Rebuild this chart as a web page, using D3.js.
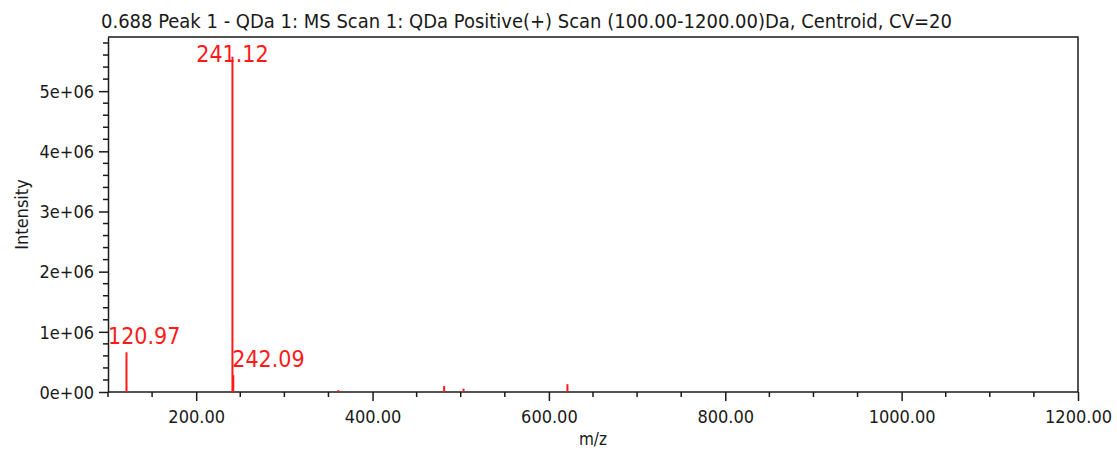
<!DOCTYPE html>
<html>
<head>
<meta charset="utf-8">
<script src="https://cdn.jsdelivr.net/npm/d3@7"></script>
<style>
  html, body { margin: 0; padding: 0; background: #fff; }
  svg { display: block; }
  text { font-family: "DejaVu Sans Condensed", "DejaVu Sans", sans-serif; fill: #1a1a1a; }
</style>
</head>
<body>
<svg id="chart" width="1117" height="452"></svg>
<script>
// Centroid peaks: m/z and intensity
const peakMz = [120.97, 241.12, 242.09, 361.2, 481.2, 503.2, 621.0];
const peakIntensity = [660000, 5570000, 280000, 30000, 100000, 55000, 130000];
// Peaks carrying an m/z label
const labelMz = ["120.97", "241.12", "242.09"];

const xTickValues = [200, 400, 600, 800, 1000, 1200];
const yTickValues = [0, 1e6, 2e6, 3e6, 4e6, 5e6];

const titleText = "0.688 Peak 1 - QDa 1: MS Scan 1: QDa Positive(+) Scan (100.00-1200.00)Da, Centroid, CV=20";
const xTitle = "m/z";
const yTitle = "Intensity";

const W = 1117, H = 452;
const margin = { top: 37, right: 39, bottom: 60, left: 108 };
const svg = d3.select("#chart");
const innerW = W - margin.left - margin.right;
const innerH = H - margin.top - margin.bottom;

const x = d3.scaleLinear().domain([100, 1200]).range([margin.left, margin.left + innerW]);
const y = d3.scaleLinear().domain([0, 5.9e6]).range([margin.top + innerH, margin.top]);

const peakColor = "#ff1a1a";
const axisColor = "#1a1a1a";

// Frame (top and right edges)
svg.append("path")
  .attr("d", `M${x(100)},${y.range()[1]}H${x(1200)}V${y.range()[0]}`)
  .attr("fill", "none").attr("stroke", axisColor).attr("stroke-width", 1.5);

// Minor ticks
const xMinor = d3.range(100, 1201, 50).filter(v => v % 200 !== 0);
svg.append("g").selectAll("line").data(xMinor).join("line")
  .attr("x1", d => x(d)).attr("x2", d => x(d))
  .attr("y1", y(0)).attr("y2", y(0) + 5)
  .attr("stroke", axisColor).attr("stroke-width", 1.5);

const yMinor = d3.range(0, 5.85e6, 2e5).filter(v => v % 1e6 !== 0);
svg.append("g").selectAll("line").data(yMinor).join("line")
  .attr("x1", x(100) - 5).attr("x2", x(100))
  .attr("y1", d => y(d)).attr("y2", d => y(d))
  .attr("stroke", axisColor).attr("stroke-width", 1.5);

// Major axes
const xAxis = d3.axisBottom(x).tickValues(xTickValues).tickFormat(d3.format(".2f")).tickSize(9).tickSizeOuter(0);
const gx = svg.append("g").attr("transform", `translate(0,${y(0)})`).call(xAxis);
gx.select(".domain").attr("d", `M${x(100)},0H${x(1200)}`);
const sciFormat = d => {
  const e = d === 0 ? 0 : Math.floor(Math.log10(d));
  const m = d === 0 ? 0 : d / Math.pow(10, e);
  return `${m}e+${String(e).padStart(2, "0")}`;
};
const yAxis = d3.axisLeft(y).tickValues(yTickValues).tickFormat(sciFormat).tickSize(9).tickSizeOuter(0);
const gy = svg.append("g").attr("transform", `translate(${x(100)},0)`).call(yAxis);

[gx, gy].forEach(g => {
  g.selectAll(".domain, .tick line").attr("stroke", axisColor).attr("stroke-width", 1.5);
  g.selectAll(".tick text").attr("fill", axisColor).style("font-size", "18px")
    .style("font-family", '"DejaVu Sans Condensed", "DejaVu Sans", sans-serif');
});
gx.selectAll(".tick text").attr("dy", "1.05em");
gy.selectAll(".tick text").attr("dx", "-2").attr("dy", "0.35em");

// Peaks
svg.append("g").selectAll("line").data(peakMz).join("line")
  .attr("x1", d => x(d)).attr("x2", d => x(d))
  .attr("y1", y(0)).attr("y2", (d, i) => y(peakIntensity[i]))
  .attr("stroke", peakColor).attr("stroke-width", 2);

// Peak labels: centred on the peak, kept inside the frame;
// a label that would collide with its neighbour is shifted to start at the peak
const labelOffset = { "242.09": "start" };
const labels = svg.append("g").selectAll("text").data(labelMz).join("text")
  .style("fill", peakColor).style("font-size", "23px")
  .text(d => d);
labels.each(function(d) {
  const el = d3.select(this);
  const w = this.getComputedTextLength();
  const px = x(+d);
  const top = y(peakIntensity[peakMz.indexOf(+d)]);
  let lx = labelOffset[d] === "start" ? px - 1 : px - w / 2;
  lx = Math.max(x(100), Math.min(lx, x(1200) - w));
  const ly = Math.max(top - 8, y.range()[1] + 25);
  el.attr("x", lx).attr("y", ly);
});

// Titles
const title = svg.append("text").attr("x", 101).attr("y", 28).style("font-size", "18px").text(titleText);
const titleW = title.node().getComputedTextLength();
title.style("font-size", (18 * 851 / titleW).toFixed(2) + "px");
svg.append("text").attr("x", (x(100) + x(1200)) / 2).attr("y", 445).attr("text-anchor", "middle")
  .style("font-size", "17px").text(xTitle);
svg.append("text").attr("transform", `translate(28,${(y(0) + y.range()[1]) / 2}) rotate(-90)`)
  .attr("text-anchor", "middle").style("font-size", "18px").text(yTitle);
</script>
</body>
</html>
